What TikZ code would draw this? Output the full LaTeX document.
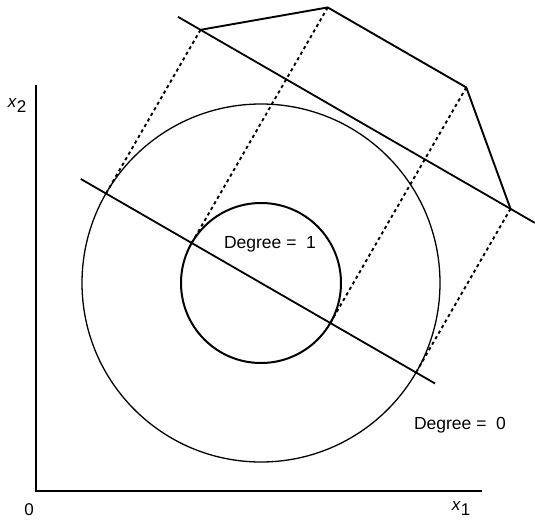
\documentclass[tikz,border=0pt]{standalone}
\usepackage{fontspec}
\setmainfont{Liberation Sans}
\begin{document}
\begin{tikzpicture}[x=1pt,y=-1pt,
  axis/.style={line width=2pt, line cap=rect},
  bigc/.style={line width=1.3pt},
  smallc/.style={line width=2pt},
  projline/.style={line width=1.8pt},
  poly/.style={line width=1.9pt, line join=miter},
  proj/.style={line width=1.9pt, dash pattern=on 3.2pt off 3.2pt},
  lbl/.style={inner sep=0pt, font=\fontsize{17.5}{21}\selectfont},
  axlbl/.style={inner sep=0pt, font=\fontsize{17}{20}\selectfont}]
\useasboundingbox (0,0) rectangle (535,529);
% axes
\coordinate (O) at (36,491);
\coordinate (Ytop) at (36,86);
\coordinate (Xend) at (481,491);
\draw[axis] (Ytop) -- (O) -- (Xend);
% circles
\coordinate (C) at (261,283);
\draw[bigc] (C) circle[radius=179pt];
\draw[smallc] (C) circle[radius=80pt];
% rotated frame
\begin{scope}[shift={(261pt,-283pt)}, x={(0.866pt,-0.5pt)}, y={(0.5pt,0.866pt)}]
  \coordinate (L1a) at (-208,0);
  \coordinate (L1b) at (201,0);
  \coordinate (L2a) at (-205,189);
  \coordinate (L2b) at (207,189);
  \coordinate (P1) at (-179,189);
  \coordinate (P2) at (-80,272);
  \coordinate (P3) at (80,272);
  \coordinate (P4) at (179,189);
  \coordinate (F1) at (-179,0);
  \coordinate (F2) at (-80,0);
  \coordinate (F3) at (80,0);
  \coordinate (F4) at (179,0);
\end{scope}
\draw[projline] (L1a) -- (L1b);
\draw[projline] (L2a) -- (L2b);
\draw[poly] (P1) -- (P2) -- (P3) -- (P4);
\draw[proj] (P1) -- (F1);
\draw[proj] (P2) -- (F2);
\draw[proj] (P3) -- (F3);
\draw[proj] (P4) -- (F4);
% labels
\node[lbl] (d1) at (270,244) {Degree =\ \ 1};
\node[lbl] (d0) at (460,425) {Degree =\ \ 0};
\node[axlbl] (zero) at (29,510) {0};
\node[axlbl] (x1) at (461,509) {\textit{x}\raisebox{-5pt}{1}};
\node[axlbl] (x2) at (17,106) {\textit{x}\raisebox{-5pt}{2}};
\end{tikzpicture}
\end{document}
